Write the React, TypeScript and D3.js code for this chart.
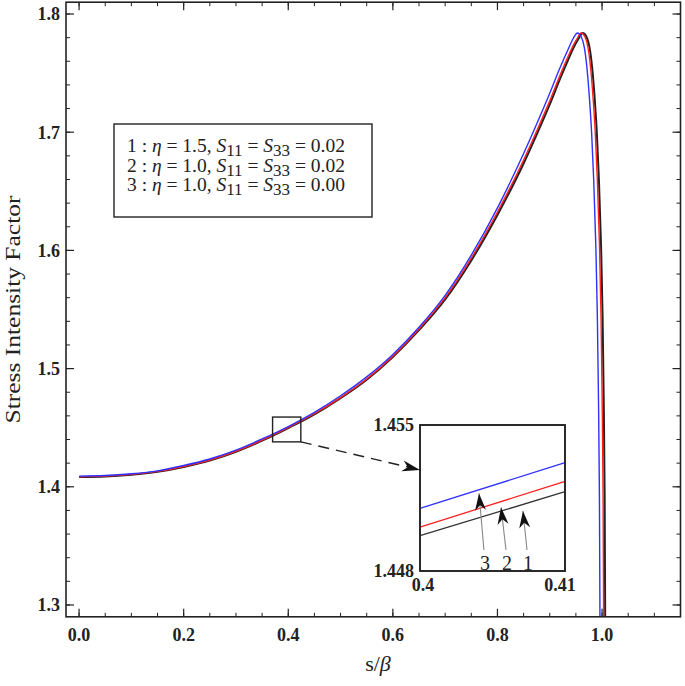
import React from 'react';
import * as d3 from 'd3';

// series 1: eta = 1.5, S11 = S33 = 0.02 (blue)
const xs1 = [0, 0.05, 0.1, 0.15, 0.2, 0.25, 0.3, 0.35, 0.4, 0.45, 0.5, 0.55, 0.6, 0.65, 0.7, 0.75, 0.8, 0.85, 0.875, 0.9, 0.92, 0.935, 0.945, 0.953, 0.96, 0.966, 0.971, 0.976, 0.98, 0.984, 0.988, 0.991, 0.993, 0.995, 0.996];
const ys1 = [1.409, 1.4095, 1.411, 1.4135, 1.418, 1.4235, 1.431, 1.4405, 1.451, 1.463, 1.477, 1.493, 1.512, 1.535, 1.562, 1.596, 1.636, 1.682, 1.707, 1.733, 1.755, 1.770, 1.7795, 1.784, 1.781, 1.772, 1.755, 1.728, 1.700, 1.660, 1.605, 1.545, 1.480, 1.390, 1.290];

// series 2: eta = 1.0, S11 = S33 = 0.02 (red)
const xs2 = [0, 0.05, 0.1, 0.15, 0.2, 0.25, 0.3, 0.35, 0.4, 0.45, 0.5, 0.55, 0.6, 0.65, 0.7, 0.75, 0.8, 0.85, 0.875, 0.9, 0.92, 0.935, 0.945, 0.952, 0.96, 0.967, 0.973, 0.978, 0.983, 0.987, 0.991, 0.995, 0.998, 1.0, 1.002, 1.003];
const ys2 = [1.4085, 1.409, 1.4105, 1.413, 1.4172, 1.4226, 1.4300, 1.4394, 1.4501, 1.4618, 1.4755, 1.4912, 1.5105, 1.5335, 1.5600, 1.5935, 1.6325, 1.6765, 1.7010, 1.7265, 1.7485, 1.7640, 1.7735, 1.7790, 1.7840, 1.7810, 1.7720, 1.7550, 1.7280, 1.7000, 1.6600, 1.6050, 1.5450, 1.4800, 1.3900, 1.2900];

// series 3: eta = 1.0, S11 = S33 = 0.00 (black)
const xs3 = [0, 0.05, 0.1, 0.15, 0.2, 0.25, 0.3, 0.35, 0.4, 0.45, 0.5, 0.55, 0.6, 0.65, 0.7, 0.75, 0.8, 0.85, 0.875, 0.9, 0.92, 0.935, 0.945, 0.955, 0.963, 0.97, 0.976, 0.981, 0.986, 0.99, 0.994, 0.998, 1.001, 1.003, 1.005, 1.006];
const ys3 = [1.4082, 1.4087, 1.4102, 1.4127, 1.4168, 1.4222, 1.4296, 1.4390, 1.4497, 1.4613, 1.4750, 1.4906, 1.5098, 1.5325, 1.5585, 1.5915, 1.6300, 1.6735, 1.6980, 1.7235, 1.7455, 1.7610, 1.7710, 1.7790, 1.7840, 1.7810, 1.7720, 1.7550, 1.7280, 1.7000, 1.6600, 1.6050, 1.5450, 1.4800, 1.3900, 1.2900];

// zoomed inset, s/beta from 0.4 to 0.41
const insetX = [0.4, 0.41];
const inset1 = [1.4510, 1.4532];
const inset2 = [1.4501, 1.4523];
const inset3 = [1.4497, 1.4518];

const yMajor = [1.3, 1.4, 1.5, 1.6, 1.7, 1.8];
const xMajor = [0, 0.2, 0.4, 0.6, 0.8, 1.0];
const xLabels = ['0.0', '0.2', '0.4', '0.6', '0.8', '1.0'];

const legendRows = [
  { n: '1', eta: '1.5', s: '0.02' },
  { n: '2', eta: '1.0', s: '0.02' },
  { n: '3', eta: '1.0', s: '0.00' },
];

// arrows inside the inset: label, tail and tip in inset data coords
const insetArrows = [
  { label: '3', tail: [0.40441, 1.44901], tip: [0.40407, 1.45172] },
  { label: '2', tail: [0.40593, 1.44901], tip: [0.40559, 1.45105] },
  { label: '1', tail: [0.40738, 1.44901], tip: [0.40710, 1.45088] },
];

const W = 685;
const H = 686;
const font = '"Liberation Serif", "DejaVu Serif", serif';

function arrowHead(tx: number, ty: number, fx: number, fy: number, len: number, half: number) {
  const a = Math.atan2(ty - fy, tx - fx);
  const c = Math.cos(a), s = Math.sin(a);
  const bx = tx - c * len, by = ty - s * len;
  const nx = tx - c * len * 0.7, ny = ty - s * len * 0.7;
  return `M${tx},${ty}L${bx - s * half},${by + c * half}L${nx},${ny}L${bx + s * half},${by - c * half}Z`;
}

export default function App() {
  const x = d3.scaleLinear().domain([-0.025, 1.15]).range([66, 680.5]);
  const y = d3.scaleLinear().domain([1.29, 1.81]).range([616.8, 2.2]);

  const left = x.range()[0], right = x.range()[1];
  const top = y.range()[1], bottom = y.range()[0];

  const line = (xs: number[], ys: number[]) =>
    d3.line<number>().x((_, i) => x(xs[i])).y((d) => y(d)).curve(d3.curveMonotoneX)(ys) || '';

  const ix = d3.scaleLinear().domain([0.4, 0.41]).range([420, 565]);
  const iy = d3.scaleLinear().domain([1.448, 1.455]).range([571, 425]);
  const iline = (ys: number[]) =>
    d3.line<number>().x((_, i) => ix(insetX[i])).y((d) => iy(d))(ys) || '';

  const yMinor = d3.range(1.3, 1.8001, 0.02);
  const xMinor = d3.range(0, 1.1501, 0.05);

  // small box in main plot that is magnified in the inset
  const bx0 = x(0.37), bx1 = x(0.424), by0 = y(1.459), by1 = y(1.438);
  const dEndX = ix(0.4), dEndY = iy(1.45284);

  return (
    <svg width={W} height={H} style={{ position: 'absolute', left: 0, top: 0, background: '#fff' }} fontFamily={font}>
      <rect width={W} height={H} fill="#fff" />

      {/* curves */}
      <path d={line(xs3, ys3)} fill="none" stroke="#222" strokeWidth={2} />
      <path d={line(xs2, ys2)} fill="none" stroke="#ff2020" strokeWidth={1.4} />
      <path d={line(xs1, ys1)} fill="none" stroke="#3030ff" strokeWidth={1.4} />

      {/* frame */}
      <rect x={left} y={top} width={right - left} height={bottom - top} fill="none" stroke="#222" strokeWidth={1.6} />

      {/* y ticks */}
      {yMinor.map((v, i) => (
        <g key={'ym' + i}>
          <line x1={left} x2={left + 4} y1={y(v)} y2={y(v)} stroke="#222" strokeWidth={1} />
          <line x1={right} x2={right - 4} y1={y(v)} y2={y(v)} stroke="#222" strokeWidth={1} />
        </g>
      ))}
      {yMajor.map((v) => (
        <g key={'yM' + v}>
          <line x1={left} x2={left + 8} y1={y(v)} y2={y(v)} stroke="#222" strokeWidth={1.2} />
          <line x1={right} x2={right - 8} y1={y(v)} y2={y(v)} stroke="#222" strokeWidth={1.2} />
          <text x={left - 6} y={y(v)} dy="0.35em" textAnchor="end" fontSize={18} fontWeight="bold" fill="#222">
            {v.toFixed(1)}
          </text>
        </g>
      ))}

      {/* x ticks */}
      {xMinor.map((v, i) => (
        <g key={'xm' + i}>
          <line x1={x(v)} x2={x(v)} y1={bottom} y2={bottom - 4} stroke="#222" strokeWidth={1} />
          <line x1={x(v)} x2={x(v)} y1={top} y2={top + 4} stroke="#222" strokeWidth={1} />
        </g>
      ))}
      {xMajor.map((v, i) => (
        <g key={'xM' + v}>
          <line x1={x(v)} x2={x(v)} y1={bottom} y2={bottom - 8} stroke="#222" strokeWidth={1.2} />
          <line x1={x(v)} x2={x(v)} y1={top} y2={top + 8} stroke="#222" strokeWidth={1.2} />
          <text x={x(v)} y={bottom + 24} textAnchor="middle" fontSize={18} fontWeight="bold" fill="#222">
            {xLabels[i]}
          </text>
        </g>
      ))}

      {/* axis titles */}
      <text
        transform={`translate(20,${(top + bottom) / 2}) rotate(-90)`}
        textAnchor="middle"
        fontSize={20}
        textLength={228}
        lengthAdjust="spacingAndGlyphs"
        fill="#222"
      >
        Stress Intensity Factor
      </text>
      <text x={378} y={671} textAnchor="middle" fontSize={22} fill="#222">
        s/<tspan fontStyle="italic">β</tspan>
      </text>

      {/* legend */}
      <rect x={114} y={124} width={258} height={93} fill="#fff" stroke="#222" strokeWidth={1.4} />
      {legendRows.map((r, i) => (
        <text key={r.n} x={127} y={152 + i * 19.5} fontSize={19.5} fill="#222">
          {r.n} : <tspan fontStyle="italic">η</tspan> = {r.eta}, <tspan fontStyle="italic">S</tspan>
          <tspan dy={4} fontSize={17}>11</tspan>
          <tspan dy={-4}> = </tspan>
          <tspan fontStyle="italic">S</tspan>
          <tspan dy={4} fontSize={17}>33</tspan>
          <tspan dy={-4}> = {r.s}</tspan>
        </text>
      ))}

      {/* magnified region marker */}
      <rect x={bx0} y={by0} width={bx1 - bx0} height={by1 - by0} fill="none" stroke="#222" strokeWidth={1.4} />
      <line x1={bx1} y1={by1} x2={dEndX - 12} y2={dEndY - 3} stroke="#222" strokeWidth={1.4} strokeDasharray="11 7" />
      <path d={arrowHead(dEndX, dEndY, bx1, by1, 18, 5.5)} fill="#111" />

      {/* inset */}
      <rect x={420} y={425} width={145} height={146} fill="#fff" stroke="#222" strokeWidth={1.6} />
      <path d={iline(inset3)} fill="none" stroke="#333" strokeWidth={1.3} />
      <path d={iline(inset2)} fill="none" stroke="#ff2020" strokeWidth={1.3} />
      <path d={iline(inset1)} fill="none" stroke="#3030ff" strokeWidth={1.3} />
      <rect x={420} y={425} width={145} height={146} fill="none" stroke="#222" strokeWidth={1.6} />
      <text x={414} y={iy(1.455)} dy="0.35em" textAnchor="end" fontSize={18} fontWeight="bold" fill="#222">1.455</text>
      <text x={414} y={iy(1.448)} dy="0.35em" textAnchor="end" fontSize={18} fontWeight="bold" fill="#222">1.448</text>
      <text x={ix(0.4) + 3} y={591} textAnchor="middle" fontSize={18} fontWeight="bold" fill="#222">0.4</text>
      <text x={ix(0.41) - 5} y={591} textAnchor="middle" fontSize={18} fontWeight="bold" fill="#222">0.41</text>
      {insetArrows.map((a) => {
        const tx = ix(a.tip[0]), ty = iy(a.tip[1]);
        const fx = ix(a.tail[0]), fy = iy(a.tail[1]);
        return (
          <g key={a.label}>
            <line x1={fx} y1={fy} x2={tx} y2={ty} stroke="#888" strokeWidth={1.1} />
            <path d={arrowHead(tx, ty, fx, fy, 17, 5.5)} fill="#111" />
            <text x={fx + 1} y={fy + 20} textAnchor="middle" fontSize={20} fill="#222">{a.label}</text>
          </g>
        );
      })}
    </svg>
  );
}
